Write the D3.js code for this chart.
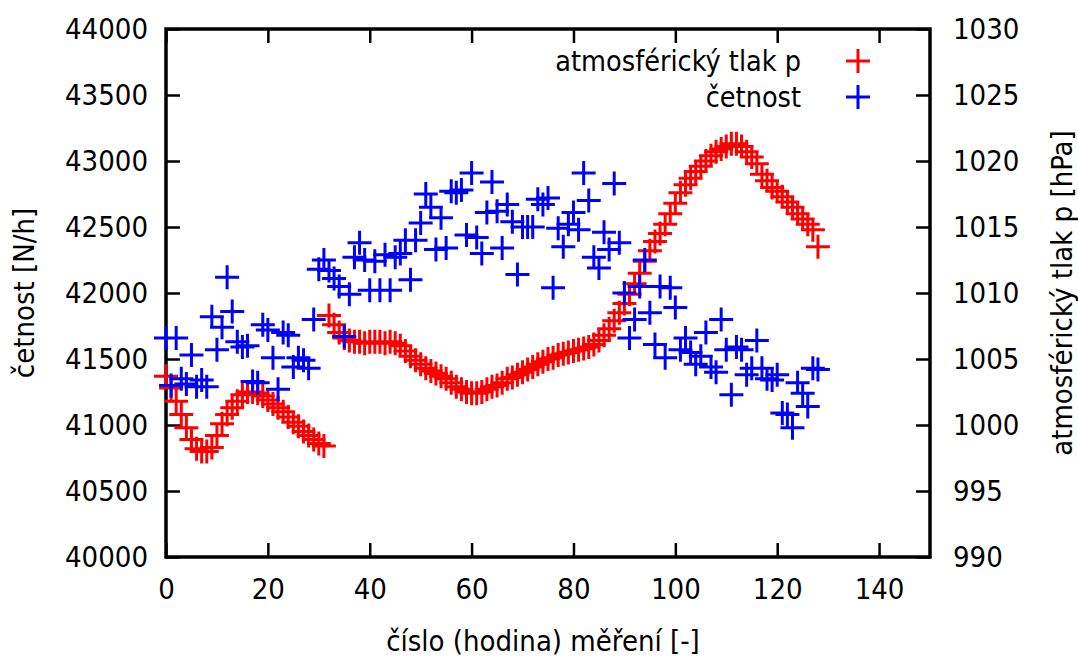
<!DOCTYPE html>
<html>
<head>
<meta charset="utf-8">
<script src="https://cdn.jsdelivr.net/npm/d3@7"></script>
<style>
  body { margin: 0; background: #fff; }
  text { font-family: "DejaVu Sans Condensed", "DejaVu Sans", sans-serif; fill: #000; }
</style>
</head>
<body>
<div id="chart"></div>
<script>
// chart size and plot frame
const width = 1078;
const height = 661;
const margin = {left: 166, right: 148, top: 29, bottom: 104};

// x = hour number, one value per hour
const xTicks = [0, 20, 40, 60, 80, 100, 120, 140];
const yTicks = [40000, 40500, 41000, 41500, 42000, 42500, 43000, 43500, 44000];
const y2Ticks = [990, 995, 1000, 1005, 1010, 1015, 1020, 1025, 1030];

// atmospheric pressure p [hPa], hours 0..128
const pressure = [
  1003.7, 1002.8, 1001.8, 1000.8, 999.8, 998.9, 998.2, 998.0, 998.0, 998.3,
  999.2, 1000.1, 1000.8, 1001.3, 1001.8, 1002.3, 1002.5, 1002.5, 1002.4, 1002.2,
  1001.9, 1001.6, 1001.3, 1001.0, 1000.6, 1000.2, 999.9, 999.5, 999.2, 998.9,
  998.6, 998.4, 1008.3, 1007.6, 1007.0, 1006.6, 1006.4, 1006.3, 1006.3, 1006.2,
  1006.3, 1006.3, 1006.3, 1006.2, 1006.3, 1006.2, 1006.0, 1005.6, 1005.2, 1004.9,
  1004.6, 1004.3, 1004.1, 1003.9, 1003.7, 1003.5, 1003.2, 1002.9, 1002.7, 1002.5,
  1002.4, 1002.4, 1002.5, 1002.7, 1002.9, 1003.0, 1003.2, 1003.5, 1003.6, 1003.8,
  1004.0, 1004.2, 1004.4, 1004.6, 1004.8, 1005.0, 1005.1, 1005.3, 1005.4, 1005.5,
  1005.6, 1005.7, 1005.8, 1005.9, 1006.1, 1006.4, 1006.8, 1007.3, 1007.9, 1008.5,
  1009.2, 1009.9, 1010.7, 1011.5, 1012.4, 1013.2, 1013.9, 1014.5, 1015.2, 1016.0,
  1016.8, 1017.6, 1018.2, 1018.7, 1019.2, 1019.6, 1020.0, 1020.4, 1020.7, 1020.9,
  1021.1, 1021.3, 1021.3, 1021.1, 1020.7, 1020.3, 1019.8, 1019.0, 1018.5, 1018.0,
  1017.7, 1017.3, 1016.9, 1016.5, 1016.0, 1015.6, 1015.2, 1014.8, 1013.5
];

// četnost [N/h], hours 0..128
const rate = [
  41660, 41300, 41660, 41350, 41310, 41530, 41290, 41340, 41290, 41820,
  41570, 41740, 42120, 41860, 41630, 41590, 41600, 41330, 41320, 41760,
  41720, 41510, 41270, 41700, 41680, 41440, 41510, 41490, 41430, 41800,
  42180, 42250, 42170, 42110, 42050, 41670, 41990, 42270, 42380, 42250,
  42020, 42240, 42020, 42290, 42020, 42270, 42300, 42400, 42100, 42400,
  42530, 42750, 42650, 42330, 42570, 42340, 42770, 42760, 42780, 42440,
  42910, 42420, 42300, 42610, 42840, 42620, 42340, 42670, 42540, 42140,
  42500, 42500, 42500, 42710, 42670, 42720, 42040, 42490, 42350, 42520,
  42610, 42480, 42910, 42700, 42270, 42190, 42460, 42330, 42830, 42380,
  42000, 41660, 41800, 42050, 42250, 41850, 41610, 42050, 41510, 42040,
  41890, 41570, 41660, 41550, 41460, 41520, 41700, 41440, 41400, 41800,
  41570, 41230, 41590, 41570, 41380, 41430, 41640, 41430, 41350, 41340,
  41380, 41090, 41080, 40980, 41320, 41240, 41140, 41430, 41420
];

const legendLabels = ["atmosférický tlak p", "četnost"];

const svg = d3.select("#chart")
  .append("svg")
  .attr("width", width)
  .attr("height", height);

const x = d3.scaleLinear()
  .domain([0, 150])
  .range([margin.left, width - margin.right]);
const y = d3.scaleLinear()
  .domain([40000, 44000])
  .range([height - margin.bottom, margin.top]);
const y2 = d3.scaleLinear()
  .domain([990, 1030])
  .range([height - margin.bottom, margin.top]);

const tickLen = 14;
const fontSize = 29;

// axes: ticks point into the plot, labels outside (gnuplot style)
const styleAxis = function(g) {
  g.select(".domain").remove();
  g.selectAll(".tick line").attr("stroke", "#000").attr("stroke-width", 2.5);
  g.selectAll(".tick text").attr("font-size", fontSize + "px")
    .attr("font-family", '"DejaVu Sans Condensed", "DejaVu Sans", sans-serif');
};

svg.append("g")
  .attr("transform", `translate(0,${height - margin.bottom})`)
  .call(d3.axisBottom(x).tickValues(xTicks).tickSize(-tickLen).tickPadding(21).tickFormat(d3.format("d")))
  .call(styleAxis);

// mirrored x ticks on top
svg.append("g")
  .attr("transform", `translate(0,${margin.top})`)
  .call(d3.axisTop(x).tickValues(xTicks).tickSize(-tickLen).tickFormat(""))
  .call(styleAxis);

svg.append("g")
  .attr("transform", `translate(${margin.left},0)`)
  .call(d3.axisLeft(y).tickValues(yTicks).tickSize(-tickLen).tickPadding(18).tickFormat(d3.format("d")))
  .call(styleAxis);

svg.append("g")
  .attr("transform", `translate(${width - margin.right},0)`)
  .call(d3.axisRight(y2).tickValues(y2Ticks).tickSize(-tickLen).tickPadding(23).tickFormat(d3.format("d")))
  .call(styleAxis);

// plot frame
svg.append("rect")
  .attr("x", margin.left)
  .attr("y", margin.top)
  .attr("width", width - margin.left - margin.right)
  .attr("height", height - margin.top - margin.bottom)
  .attr("fill", "none")
  .attr("stroke", "#000")
  .attr("stroke-width", 3.5);

// plus markers
const arm = 12;
const plus = (cx, cy) => `M${cx - arm},${cy}H${cx + arm}M${cx},${cy - arm}V${cy + arm}`;

svg.append("path")
  .attr("d", pressure.map((d, i) => plus(x(i), y2(d))).join(""))
  .attr("stroke", "#ff0000")
  .attr("stroke-width", 3)
  .attr("fill", "none");

svg.append("path")
  .attr("d", rate.map((d, i) => plus(x(i), y(d))).join(""))
  .attr("stroke", "#0000ff")
  .attr("stroke-width", 3)
  .attr("fill", "none");

// legend
const legendColors = ["#ff0000", "#0000ff"];
legendLabels.forEach(function(label, i) {
  const ly = 61 + i * 36;
  svg.append("text")
    .attr("x", 801)
    .attr("y", ly)
    .attr("dy", "0.35em")
    .attr("text-anchor", "end")
    .attr("font-size", "28.5px")
    .text(label);
  svg.append("path")
    .attr("d", plus(858, ly))
    .attr("stroke", legendColors[i])
    .attr("stroke-width", 3);
});

// axis titles
svg.append("text")
  .attr("transform", `translate(24,${(margin.top + height - margin.bottom) / 2}) rotate(-90)`)
  .attr("text-anchor", "middle")
  .attr("dy", "0.35em")
  .attr("font-size", "29px")
  .text("četnost [N/h]");

svg.append("text")
  .attr("transform", `translate(1062,${(margin.top + height - margin.bottom) / 2}) rotate(-90)`)
  .attr("text-anchor", "middle")
  .attr("dy", "0.35em")
  .attr("font-size", "29px")
  .text("atmosférický tlak p [hPa]");

svg.append("text")
  .attr("x", 543)
  .attr("y", 641)
  .attr("text-anchor", "middle")
  .attr("dy", "0.35em")
  .attr("font-size", "29px")
  .text("číslo (hodina) měření [-]");
</script>
</body>
</html>
